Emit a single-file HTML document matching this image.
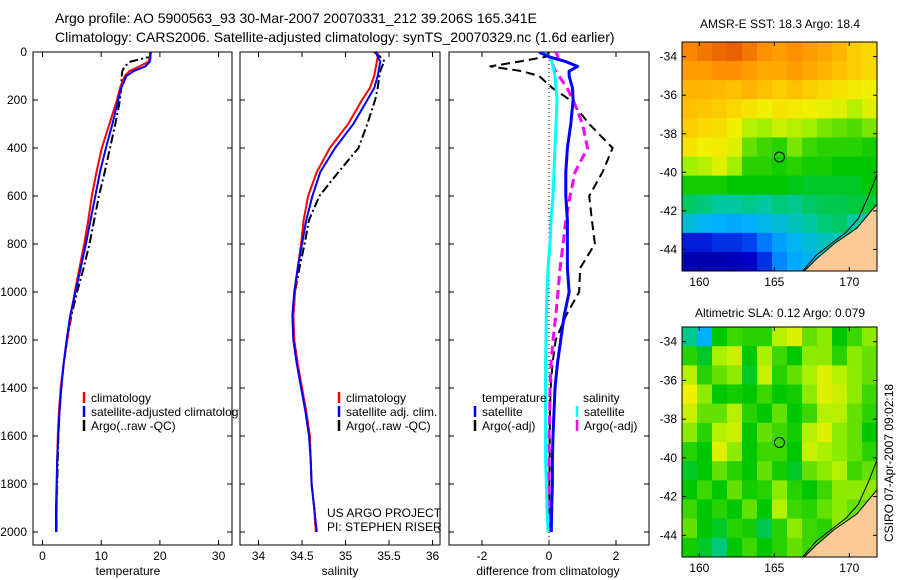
<!DOCTYPE html>
<html><head><meta charset="utf-8">
<style>
html,body{margin:0;padding:0;background:#fff;}
svg{display:block;font-family:"Liberation Sans",sans-serif;}
text{fill:#000;}
</style></head>
<body>
<svg id="fig" width="900" height="580" viewBox="0 0 900 580" xmlns="http://www.w3.org/2000/svg">
<defs>
<clipPath id="clipLeg1"><rect x="0" y="0" width="239" height="580"/></clipPath>
<clipPath id="clipP1"><rect x="33" y="52" width="199" height="493"/></clipPath>
<clipPath id="clipP2"><rect x="240" y="52" width="200" height="493"/></clipPath>
<clipPath id="clipP3"><rect x="449" y="52" width="200" height="493"/></clipPath>
<clipPath id="clipM1"><rect x="682" y="42" width="195" height="229"/></clipPath>
<clipPath id="clipM2"><rect x="682" y="327" width="195" height="230"/></clipPath>
</defs>
<text x="55" y="23" font-size="14">Argo profile: AO 5900563_93 30-Mar-2007 20070331_212 39.206S 165.341E</text>
<text x="55" y="42" font-size="14">Climatology: CARS2006. Satellite-adjusted climatology: synTS_20070329.nc (1.6d earlier)</text>
<g id="g"></g>
</svg>
<script>
// ---- profile data ----
const depths = [0,20,40,60,80,100,150,200,300,400,500,600,700,800,900,1000,1100,1200,1300,1400,1500,1600,1700,1800,1900,2000];
const tempClim = [18.3,18.3,18.1,16.5,14.8,14.0,13.2,12.7,11.4,10.1,9.2,8.4,7.8,7.1,6.3,5.5,4.8,4.2,3.6,3.1,2.8,2.6,2.5,2.45,2.4,2.4];
const tempSat = [18.4,18.4,18.3,17.5,15.5,14.3,13.4,12.9,11.9,10.8,9.8,9.0,8.2,7.4,6.5,5.6,4.7,4.1,3.6,3.2,2.9,2.7,2.5,2.4,2.3,2.3];
const tempArgo = [18.5,18.3,15.0,14.0,13.6,13.5,13.4,13.2,12.4,11.5,10.6,9.6,8.8,8.0,7.0,5.9,4.9,4.2,3.6,3.2,2.9,2.7,2.6,2.5,2.4,2.4];
const salClim = [35.37,35.37,35.36,35.35,35.34,35.33,35.28,35.19,35.03,34.82,34.67,34.57,34.52,34.49,34.45,34.42,34.40,34.41,34.45,34.50,34.55,34.59,34.60,34.61,34.64,34.66];
const salSat = [35.35,35.37,35.40,35.39,35.38,35.37,35.33,35.25,35.09,34.88,34.71,34.62,34.55,34.50,34.45,34.41,34.39,34.40,34.44,34.49,34.54,34.58,34.60,34.61,34.64,34.67];
const salArgo = [35.33,35.40,35.45,35.42,35.40,35.39,35.37,35.34,35.25,35.15,34.92,34.70,34.58,34.53,34.47,34.42,34.40,34.41,34.45,34.50,34.55,34.59,34.60,34.61,34.64,34.66];
const dTempSat = [-0.3,0.0,0.5,0.85,0.6,0.6,0.7,0.72,0.65,0.55,0.5,0.5,0.55,0.55,0.55,0.6,0.45,0.35,0.25,0.18,0.15,0.12,0.1,0.1,0.08,0.07];
const dTempArgo = [0,-0.1,-0.9,-1.75,-0.8,-0.3,0.1,0.63,1.2,1.9,1.6,1.2,1.28,1.37,0.93,0.9,0.5,0.2,0.1,0.05,0.03,0.02,0.02,0.01,0.01,0.0];
const dSalSat = [-0.27,0.03,0.09,0.12,0.15,0.18,0.21,0.24,0.21,0.18,0.15,0.12,0.06,0.03,-0.03,-0.06,-0.08,-0.09,-0.1,-0.1,-0.1,-0.1,-0.1,-0.08,-0.06,-0.03];
const dSalArgo = [0.2,0.27,0.18,0.12,0.2,0.3,0.54,0.72,1.0,1.15,0.78,0.63,0.5,0.42,0.33,0.27,0.2,0.12,0.06,0.03,0.02,0.0,0.0,0.0,0.0,0.0];
const depthTicks = [0,200,400,600,800,1000,1200,1400,1600,1800,2000];
const tempTicks = [0,10,20,30];
const salTicks = [34,34.5,35,35.5,36];
const salTickLabels = ["34","34.5","35","35.5","36"];
const diffTicks = [-2,0,2];
const lonTicks = [160,165,170];
const latTicks = [-34,-36,-38,-40,-42,-44];
// ---- map fields (colour index 0..1), rows north->south, cols west->east ----
const sstGrid = [
[.83,.85,.87,.88,.85,.82,.80,.82,.80,.78,.76,.72,.70],
[.80,.80,.82,.82,.80,.78,.78,.80,.78,.76,.74,.72,.70],
[.76,.76,.75,.74,.76,.74,.72,.74,.72,.70,.68,.67,.66],
[.74,.73,.72,.70,.68,.66,.68,.67,.66,.65,.64,.60,.64],
[.72,.70,.69,.66,.60,.58,.62,.60,.58,.56,.55,.54,.56],
[.68,.66,.67,.64,.55,.53,.52,.56,.53,.52,.52,.52,.51],
[.58,.60,.64,.58,.52,.52,.51,.52,.51,.51,.50,.50,.50],
[.51,.51,.51,.50,.50,.50,.50,.49,.48,.48,.48,.48,.50],
[.45,.44,.42,.42,.43,.42,.44,.43,.45,.46,.46,.47,.47],
[.38,.36,.35,.34,.35,.37,.38,.40,.42,.44,.45,.42,.40],
[.18,.18,.20,.20,.22,.28,.33,.36,.38,.40,.40,.40,.40],
[.10,.10,.10,.12,.15,.20,.30,.34,.36,.40,.42,.42,.42]];
const slaGrid = [
[.43,.35,.50,.53,.52,.52,.60,.64,.55,.57,.50,.53,.57],
[.52,.48,.59,.62,.50,.59,.53,.50,.57,.57,.52,.57,.55],
[.60,.52,.55,.57,.48,.62,.52,.55,.59,.64,.60,.57,.55],
[.66,.57,.50,.51,.50,.53,.50,.51,.57,.64,.62,.57,.53],
[.62,.55,.55,.60,.52,.50,.55,.50,.53,.60,.60,.55,.52],
[.57,.52,.60,.62,.50,.55,.53,.51,.60,.64,.57,.55,.50],
[.52,.50,.64,.57,.50,.53,.53,.50,.62,.59,.57,.55,.52],
[.48,.50,.55,.52,.50,.55,.51,.48,.55,.57,.60,.53,.55],
[.50,.53,.50,.55,.51,.52,.57,.52,.50,.53,.57,.57,.57],
[.53,.50,.52,.50,.55,.50,.60,.53,.52,.55,.57,.55,.55],
[.55,.50,.48,.52,.51,.46,.52,.57,.53,.52,.57,.55,.55],
[.51,.48,.44,.50,.53,.50,.52,.55,.53,.53,.53,.55,.55]];
const landLon = [171.9,170.5,169.0,167.8,166.9,171.9];
const landLat = [-41.6,-42.9,-43.7,-44.5,-45.2,-45.2];
const coastLon = [171.9,171.3,170.6,169.8,168.8,167.8,166.8];
const coastLat = [-40.0,-41.2,-42.4,-43.1,-43.7,-44.3,-45.2];
const argoLon = 165.341, argoLat = -39.206;

const NS="http://www.w3.org/2000/svg";
const G=document.getElementById('g');
function el(tag,attrs,parent){const e=document.createElementNS(NS,tag);for(const k in attrs)e.setAttribute(k,attrs[k]);(parent||G).appendChild(e);return e;}
function txt(x,y,s,size,anchor,parent){const t=el('text',{x:x,y:y,'font-size':size,'text-anchor':anchor||'start'},parent);t.textContent=s;return t;}

const yD = d => 52 + d*0.24;
const xT = t => 42.5 + t*5.87;
const xS = s => 258.5 + (s-34)*87;
const xDf = v => 549 + v*33.5;

function panel(name,x0,x1){
  const r=el('rect',{x:x0,y:52,width:x1-x0,height:493,fill:'#fff',stroke:'#000','stroke-width':1});
  
  
  depthTicks.forEach(d=>{
    el('line',{x1:x0,x2:x0+5,y1:yD(d),y2:yD(d),stroke:'#000'});
    el('line',{x1:x1-5,x2:x1,y1:yD(d),y2:yD(d),stroke:'#000'});
  });
}
function xticks(vals,labels,fx){
  vals.forEach((v,i)=>{
    const x=fx(v);
    el('line',{x1:x,x2:x,y1:52,y2:57,stroke:'#000'});
    el('line',{x1:x,x2:x,y1:540,y2:545,stroke:'#000'});
    const t=txt(x,560,labels[i],12,'middle');
    
    
  });
}
function line(vals,fx,color,w,dash,clip,name){
  const pts=vals.map((v,i)=>fx(v).toFixed(1)+','+yD(depths[i]).toFixed(1)).join(' ');
  const p=el('polyline',{points:pts,fill:'none',stroke:color,'stroke-width':w,'stroke-dasharray':dash||'none','clip-path':'url(#'+clip+')','stroke-linejoin':'round'});
  
  
}
function legendRow(x,y,color,label,parent){
  el('line',{x1:x,x2:x,y1:y-6,y2:y+5,stroke:color,'stroke-width':2.5},parent);
  const t=txt(x+7,y+4,label,12,'start',parent);
  
  
}

// Panel 1 temperature
panel('temperature-panel',33,232);
depthTicks.forEach(d=>{const t=txt(27,yD(d)+4,String(d),12,'end');
  
  });
xticks(tempTicks,tempTicks.map(String),xT);
line(tempArgo,xT,'#000',2,'9,3,2,3','clipP1','temp-argo-line');
line(tempClim,xT,'#f00',2,null,'clipP1','temp-climatology-line');
line(tempSat,xT,'#00f',2,null,'clipP1','temp-satellite-line');
const l1=el('g',{'clip-path':'url(#clipLeg1)'});


legendRow(84,398,'#f00','climatology',l1);
legendRow(84,412,'#00f','satellite-adjusted climatology',l1);
legendRow(84,426,'#000','Argo(..raw -QC)',l1);
const xl1=txt(128,575,'temperature',12,'middle');



// Panel 2 salinity
panel('salinity-panel',240,440);
xticks(salTicks,salTickLabels,xS);
line(salArgo,xS,'#000',2,'9,3,2,3','clipP2','sal-argo-line');
line(salClim,xS,'#f00',2,null,'clipP2','sal-climatology-line');
line(salSat,xS,'#00f',2,null,'clipP2','sal-satellite-line');
legendRow(339,398,'#f00','climatology');
legendRow(339,412,'#00f','satellite adj. clim.');
legendRow(339,426,'#000','Argo(..raw -QC)');
const us1=txt(327,517,'US ARGO PROJECT',12);


const us2=txt(327,531,'PI: STEPHEN RISER',12);


const xl2=txt(340,575,'salinity',12,'middle');



// Panel 3 differences
panel('difference-panel',449,649);
xticks(diffTicks,diffTicks.map(String),xDf);
el('line',{x1:xDf(0),x2:xDf(0),y1:52,y2:545,stroke:'#000','stroke-dasharray':'1,3'});
line(dTempArgo,xDf,'#000',2,'9,5','clipP3','diff-temp-argo-line');
line(dSalArgo,xDf,'#f0f',3,'9,5','clipP3','diff-sal-argo-line');
line(dSalSat,xDf,'#0ff',3,null,'clipP3','diff-sal-satellite-line');
line(dTempSat,xDf,'#00f',3,null,'clipP3','diff-temp-satellite-line');
const lt=txt(482,402,'temperature',12);


const ls=txt(583,402,'salinity',12);


legendRow(475,412,'#00f','satellite');
legendRow(475,426,'#000','Argo(-adj)');
legendRow(577,412,'#0ff','satellite');
legendRow(577,426,'#f0f','Argo(-adj)');
const xl3=txt(548,575,'difference from climatology',12,'middle');



// ---- maps ----
const cmapStops=[[0,[0,0,127]],[0.15,[0,0,200]],[0.25,[0,96,255]],[0.35,[0,176,255]],[0.42,[0,200,160]],[0.5,[0,200,0]],[0.58,[160,240,0]],[0.66,[240,240,0]],[0.74,[255,192,0]],[0.82,[255,144,0]],[0.9,[224,80,0]],[1,[160,32,0]]];
function cmap(v){
  for(let i=1;i<cmapStops.length;i++){
    if(v<=cmapStops[i][0]){const a=cmapStops[i-1],b=cmapStops[i];const f=(v-a[0])/(b[0]-a[0]);
      return 'rgb('+a[1].map((c,k)=>Math.round(c+(b[1][k]-c)*f)).join(',')+')';}
  }
  return 'rgb(160,32,0)';
}
const mX = lon => 699.3 + (lon-160)*15;
function drawMap(name,grid,top,bottom,clip,title,titleY){
  const mY = lat => top + (-33.24-lat)*((bottom-top)/11.88);
  const g=el('g',{'clip-path':'url(#'+clip+')'});
  
  
  const left=682,right=877,rows=grid.length,cols=grid[0].length;
  const cw=(right-left)/cols,ch=(bottom-top)/rows;
  grid.forEach((row,r)=>row.forEach((v,c)=>{
    const cell=el('rect',{x:(left+c*cw).toFixed(2),y:(top+r*ch).toFixed(2),width:(cw+0.6).toFixed(2),height:(ch+0.6).toFixed(2),fill:cmap(v)},g);
    
    
  }));
  const land=el('polygon',{points:landLon.map((l,i)=>mX(l)+','+mY(landLat[i])).join(' '),fill:'#fbca96',stroke:'#000','stroke-width':1},g);
  
  
  const coast=el('polyline',{points:coastLon.map((l,i)=>mX(l)+','+mY(coastLat[i])).join(' '),fill:'none',stroke:'#000','stroke-width':1},g);
  
  
  const c=el('circle',{cx:mX(argoLon),cy:mY(argoLat),r:5,fill:'none',stroke:'#000','stroke-width':1});
  
  
  const fr=el('rect',{x:left,y:top,width:right-left,height:bottom-top,fill:'none',stroke:'#000'});
  
  
  lonTicks.forEach(l=>{const x=mX(l);
    el('line',{x1:x,x2:x,y1:top,y2:top+4,stroke:'#000'});
    el('line',{x1:x,x2:x,y1:bottom-4,y2:bottom,stroke:'#000'});
    const t=txt(x,bottom+15,String(l),12,'middle');
    
    });
  latTicks.forEach(l=>{const y=mY(l);
    el('line',{x1:left,x2:left+4,y1:y,y2:y,stroke:'#000'});
    el('line',{x1:right-4,x2:right,y1:y,y2:y,stroke:'#000'});
    const t=txt(677,y+4,String(l),12,'end');
    
    });
  const tt=txt(780,titleY,title,12,'middle');
  
  
}
drawMap('sst-map',sstGrid,42,271,'clipM1','AMSR-E SST: 18.3 Argo: 18.4',28);
drawMap('sla-map',slaGrid,327,557,'clipM2','Altimetric SLA: 0.12 Argo: 0.079',317);
const cs=txt(0,0,'CSIRO 07-Apr-2007 09:02:18',12,'middle');
cs.setAttribute('transform','translate(893,463) rotate(-90)');


</script>
</body></html>
